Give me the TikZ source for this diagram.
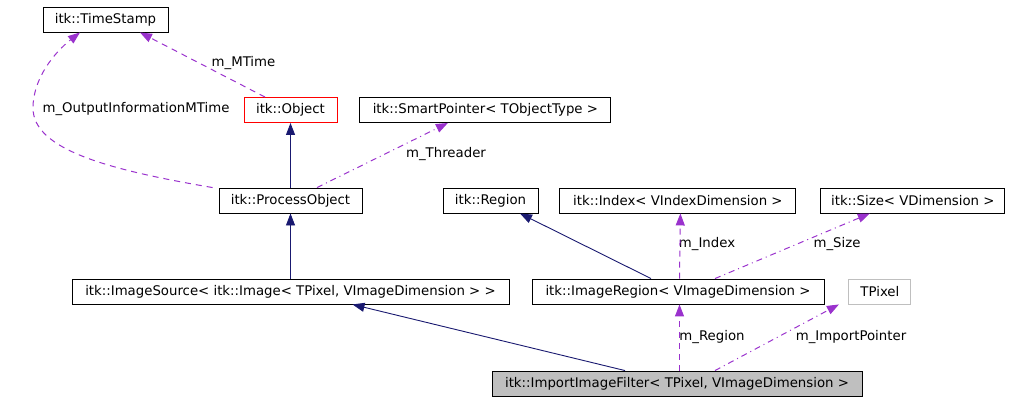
\documentclass[tikz,border=0pt]{standalone}
\usepackage{fontspec}
\setmainfont{DejaVu Sans}
\usetikzlibrary{positioning,calc,arrows.meta}
\definecolor{navy}{HTML}{191970}
\definecolor{orchid}{HTML}{9A32CD}
\definecolor{lgrey}{HTML}{BFBFBF}

\begin{document}
\begin{tikzpicture}[
            x=1pt, y=-1pt,
            font=\fontsize{13.3}{16}\selectfont,
            box/.style={draw, rectangle, align=center, inner sep=0pt, minimum height=25pt, line width=0.9pt},
            inherit/.style={color=navy, line width=0.9pt, -{Triangle[length=12pt,width=9pt]}},
            member/.style={color=orchid, line width=1pt, dash pattern=on 6pt off 5pt, -{Triangle[length=12pt,width=9pt]}},
            pointer/.style={member, dash pattern=on 6pt off 4pt on 1pt off 4pt},
            lbl/.style={inner sep=0pt}
        ]
        \useasboundingbox (0,0) rectangle (1011,400);

        \node[box, minimum width=125pt] (TS) at (105.5,19.5) {itk::TimeStamp};
        \node[box, draw=red, minimum width=93pt] (Obj) at (290.5,110) {itk::Object};
        \node[box, minimum width=251pt, right=22pt of Obj] (SP) {itk::SmartPointer< TObjectType >};
        \node[box, minimum width=143pt] (PO) at (290.5,200.5) {itk::ProcessObject};
        \node[box, minimum width=95pt] (Reg) at (490.5,200.5) {itk::Region};
        \node[box, minimum width=236pt, right=21pt of Reg] (Idx) {itk::Index< VIndexDimension >};
        \node[box, minimum width=184pt, right=24pt of Idx] (Size) {itk::Size< VDimension >};
        \node[box, minimum width=437pt] (IS) at (290.5,291.5) {itk::ImageSource< itk::Image< TPixel, VImageDimension > >};
        \node[box, minimum width=292pt] (IR) at (678,291.5) {itk::ImageRegion< VImageDimension >};
        \node[box, draw=lgrey, minimum width=62pt, right=24pt of IR] (TP) {TPixel};
        \node[box, fill=lgrey, minimum width=370pt] (IIF) at (677,383.5) {itk::ImportImageFilter< TPixel, VImageDimension >};

        % member labels
        \node[lbl] (lMTime) at (243.5,63) {m\_MTime};
        \node[lbl] (lOut) at (136,109) {m\_OutputInformationMTime};
        \node[lbl] (lThr) at (446,154) {m\_Threader};
        \node[lbl] (lIdx) at (707,244) {m\_Index};
        \node[lbl] (lSize) at (837,244) {m\_Size};
        \node[lbl] (lReg) at (712,337) {m\_Region};
        \node[lbl] (lImp) at (851,337) {m\_ImportPointer};

        \draw[member] ([xshift=-25.5pt]Obj.north) -- ([xshift=34.5pt]TS.south);
        \draw[member] ([xshift=-6pt]PO.north west) .. controls (110,170) and (33,150) .. (33,108)
            .. controls (33,78) and (55,52) .. ([xshift=-25.5pt]TS.south);
        \draw[inherit] (PO.north) -- (Obj.south);
        \draw[pointer] ([xshift=26.5pt]PO.north) -- ([xshift=-37.5pt]SP.south);
        \draw[inherit] (IS.north) -- (PO.south);
        \draw[inherit] ([xshift=-27pt]IR.north) -- ([xshift=29.5pt]Reg.south);
        \draw[member] ([xshift=1.5pt]IR.north) -- ([xshift=2.5pt]Idx.south);
        \draw[pointer] ([xshift=37pt]IR.north) -- ([xshift=-43pt]Size.south);
        \draw[inherit] ([xshift=-52pt]IIF.north) -- ([xshift=62pt]IS.south);
        \draw[member] ([xshift=2.5pt]IIF.north) -- ([xshift=1.5pt]IR.south);
        \draw[pointer] ([xshift=38pt]IIF.north) -- ([xshift=-41pt]TP.south);
    \end{tikzpicture}
\end{document}
